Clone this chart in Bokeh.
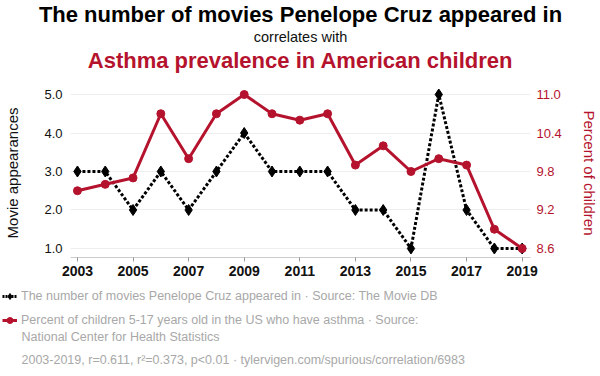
from bokeh.plotting import figure
from bokeh.layouts import column
from bokeh.models import (Range1d, LinearAxis, FixedTicker, NumeralTickFormatter,
                          Label, Legend, LegendItem, ColumnDataSource)
from bokeh.embed import file_html
from bokeh.resources import INLINE

years = list(range(2003, 2020))
movies = [3, 3, 2, 3, 2, 3, 4, 3, 3, 3, 2, 2, 1, 5, 2, 1, 1]
asthma = [9.5, 9.6, 9.7, 10.7, 10.0, 10.7, 11.0, 10.7, 10.6, 10.7, 9.9, 10.2, 9.8, 10.0, 9.9, 8.9, 8.6]
x_ticks = [2003, 2005, 2007, 2009, 2011, 2013, 2015, 2017, 2019]
left_ticks = [1, 2, 3, 4, 5]
right_ticks = [8.6, 9.2, 9.8, 10.4, 11.0]

title1 = "The number of movies Penelope Cruz appeared in"
title2 = "correlates with"
title3 = "Asthma prevalence in American children"
legend1 = "The number of movies Penelope Cruz appeared in · Source: The Movie DB"
legend2a = "Percent of children 5-17 years old in the US who have asthma · Source:"
legend2b = "National Center for Health Statistics"
stats = "2003-2019, r=0.611, r²=0.373, p<0.01 · tylervigen.com/spurious/correlation/6983"

RED = "#b5132d"
GRAY = "#a8a8a8"
FONT = "Liberation Sans"
W = 600
H_TOP, H_MAIN, H_BOT = 80, 205, 91

src = ColumnDataSource(dict(year=years, movies=movies, asthma=asthma))


def blank_fig(h):
    f = figure(width=W, height=h, output_backend="svg", toolbar_location=None,
               x_range=Range1d(0, W), y_range=Range1d(0, h),
               x_axis_location=None, y_axis_location=None,
               min_border=0, min_border_left=0, min_border_right=0,
               min_border_top=0, min_border_bottom=0, frame_align=False)
    f.outline_line_color = None
    f.grid.visible = False
    return f


def add_label(f, text, x, y, size, color, style="normal", align="left", baseline="middle"):
    f.add_layout(Label(x=x, y=y, text=text,
                       text_font=FONT, text_font_size=size, text_font_style=style,
                       text_color=color, text_align=align, text_baseline=baseline))


# ---------------- titles ----------------
top = blank_fig(H_TOP)
add_label(top, title1, 300, H_TOP - 14, "22px", "#000000", "bold", "center", "alphabetic")
add_label(top, title2, 300, H_TOP - 36, "14.5px", "#111111", "normal", "center", "alphabetic")
add_label(top, title3, 300, H_TOP - 60, "22px", RED, "bold", "center", "alphabetic")

# ---------------- main chart ----------------
y0, y1 = 0.766, 5.156

p = figure(width=W, height=H_MAIN, output_backend="svg", toolbar_location=None,
           x_range=Range1d(2002.75, 2019.3), y_range=Range1d(y0, y1),
           min_border_left=70, min_border_right=70, min_border_top=8, min_border_bottom=28,
           frame_align=False)
p.outline_line_color = None
p.extra_y_ranges = {"asthma": Range1d(8.6 + (y0 - 1) * 0.6, 8.6 + (y1 - 1) * 0.6)}

p.xaxis.ticker = FixedTicker(ticks=x_ticks)
p.xaxis.major_label_text_font = FONT
p.xaxis.major_label_text_font_style = "bold"
p.xaxis.major_label_text_font_size = "14px"
p.xaxis.major_label_text_color = "#111111"
p.xaxis.axis_line_color = "#cccccc"
p.xaxis.major_tick_line_color = "#999999"
p.xaxis.major_tick_out = 4
p.xaxis.major_tick_in = 0
p.xaxis.major_label_standoff = 4
p.xaxis.minor_tick_line_color = None

p.yaxis.ticker = FixedTicker(ticks=left_ticks)
p.yaxis.formatter = NumeralTickFormatter(format="0.0")
p.yaxis.axis_label = "Movie appearances"
p.yaxis.axis_label_text_font = FONT
p.yaxis.axis_label_text_font_style = "normal"
p.yaxis.axis_label_text_font_size = "15px"
p.yaxis.axis_label_text_color = "#111111"
p.yaxis.axis_label_standoff = 20
p.yaxis.major_label_text_font = FONT
p.yaxis.major_label_text_font_size = "13px"
p.yaxis.major_label_text_color = "#111111"
p.yaxis.major_label_standoff = 8
p.yaxis.axis_line_color = None
p.yaxis.major_tick_line_color = None
p.yaxis.major_tick_out = 0
p.yaxis.major_tick_in = 0
p.yaxis.minor_tick_line_color = None

ax_r = LinearAxis(y_range_name="asthma", ticker=FixedTicker(ticks=right_ticks),
                  formatter=NumeralTickFormatter(format="0.0"),
                  axis_label="Percent of children")
ax_r.axis_label_text_font = FONT
ax_r.axis_label_text_font_style = "normal"
ax_r.axis_label_text_font_size = "15px"
ax_r.axis_label_text_color = RED
ax_r.axis_label_standoff = 16
ax_r.major_label_text_font = FONT
ax_r.major_label_text_font_size = "13px"
ax_r.major_label_text_color = RED
ax_r.major_label_standoff = 6
ax_r.axis_line_color = None
ax_r.major_tick_line_color = None
ax_r.major_tick_out = 0
ax_r.major_tick_in = 0
ax_r.minor_tick_line_color = None
p.add_layout(ax_r, "right")

p.xgrid.grid_line_color = None
p.ygrid.grid_line_color = "#eeeeee"
p.ygrid.grid_line_width = 1

p.line("year", "movies", source=src, line_color="black", line_width=3, line_dash="3 2")
p.scatter("year", "movies", source=src, marker="diamond", size=11, color="black")
p.line("year", "asthma", source=src, line_color=RED, line_width=3, y_range_name="asthma")
p.scatter("year", "asthma", source=src, marker="circle", size=8, color=RED, y_range_name="asthma")

# ---------------- legend / notes ----------------
# legend-icon renderers reuse the real series; they fall outside this panel's range, so only the icons show
bot = blank_fig(H_BOT)
bl1 = bot.line("year", "movies", source=src, line_color="black", line_width=3, line_dash="2 1")
bm1 = bot.scatter("year", "movies", source=src, marker="diamond", size=9, color="black")
bl2 = bot.line("year", "asthma", source=src, line_color=RED, line_width=3)
bm2 = bot.scatter("year", "asthma", source=src, marker="circle", size=7, color=RED)


def make_legend(label, rends, loc):
    lg = Legend(items=[LegendItem(label=label, renderers=rends)], location=loc)
    lg.label_text_font = FONT
    lg.label_text_font_size = "12.5px"
    lg.label_text_color = GRAY
    lg.border_line_color = None
    lg.background_fill_alpha = 0
    lg.glyph_width = 15
    lg.glyph_height = 16
    lg.label_standoff = 4
    lg.label_height = 16
    lg.padding = 0
    lg.margin = 0
    lg.spacing = 0
    bot.add_layout(lg)


make_legend(legend1, [bl1, bm1], (2, H_BOT - 11 - 8))
make_legend(legend2a, [bl2, bm2], (2, H_BOT - 35 - 8))
add_label(bot, legend2b, 21, H_BOT - 51, "12.5px", GRAY)
add_label(bot, stats, 21, H_BOT - 74, "12.5px", GRAY)

layout = column(top, p, bot, spacing=0)
open("out.html", "w").write(file_html(layout, INLINE))
